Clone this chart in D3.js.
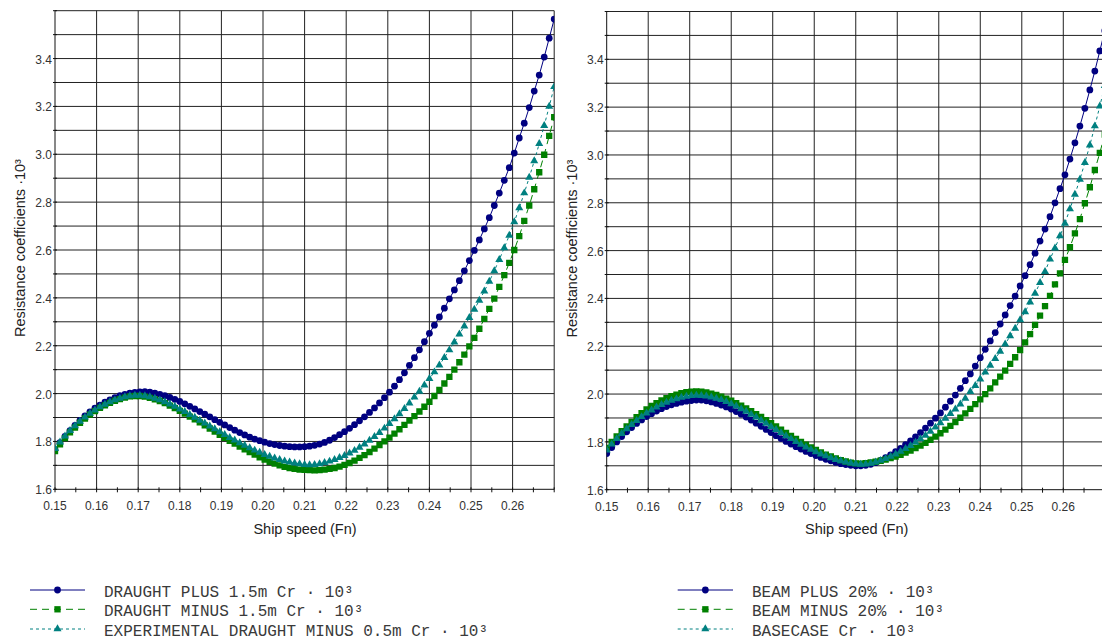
<!DOCTYPE html>
<html>
<head>
<meta charset="utf-8">
<script src="https://cdn.jsdelivr.net/npm/d3@7"></script>
<style>
  html, body { margin: 0; padding: 0; background: #fff; overflow: hidden; }
  svg { display: block; }
</style>
</head>
<body>
<svg id="chart" width="1102" height="641"></svg>
<script>
// Froude number of each computed point
const speeds = [
  0.1500,0.1512,0.1524,0.1536,0.1548,0.1560,0.1572,0.1584,0.1596,0.1608,
  0.1620,0.1632,0.1644,0.1656,0.1668,0.1680,0.1692,0.1704,0.1716,0.1728,
  0.1740,0.1752,0.1764,0.1776,0.1788,0.1800,0.1812,0.1824,0.1836,0.1848,
  0.1860,0.1872,0.1884,0.1896,0.1908,0.1920,0.1932,0.1944,0.1956,0.1968,
  0.1980,0.1992,0.2004,0.2016,0.2028,0.2040,0.2052,0.2064,0.2076,0.2088,
  0.2100,0.2112,0.2124,0.2136,0.2148,0.2160,0.2172,0.2184,0.2196,0.2208,
  0.2220,0.2232,0.2244,0.2256,0.2268,0.2280,0.2292,0.2304,0.2316,0.2328,
  0.2340,0.2352,0.2364,0.2376,0.2388,0.2400,0.2412,0.2424,0.2436,0.2448,
  0.2460,0.2472,0.2484,0.2496,0.2508,0.2520,0.2532,0.2544,0.2556,0.2568,
  0.2580,0.2592,0.2604,0.2616,0.2628,0.2640,0.2652,0.2664,0.2676,0.2688,
  0.2700
];

// Residuary resistance coefficient Cr · 10³, draught variants
const draughtPlus = [
  1.765,1.795,1.821,1.845,1.867,1.888,1.907,1.924,1.939,1.952,
  1.964,1.974,1.983,1.991,1.997,2.002,2.005,2.007,2.008,2.006,
  2.002,1.997,1.991,1.984,1.976,1.967,1.957,1.947,1.936,1.925,
  1.914,1.903,1.891,1.880,1.869,1.858,1.847,1.837,1.827,1.818,
  1.810,1.803,1.797,1.791,1.787,1.783,1.780,1.778,1.777,1.777,
  1.778,1.780,1.784,1.789,1.796,1.805,1.816,1.828,1.841,1.855,
  1.870,1.886,1.903,1.921,1.940,1.961,1.983,2.006,2.031,2.058,
  2.087,2.118,2.150,2.183,2.217,2.252,2.286,2.320,2.357,2.396,
  2.433,2.472,2.513,2.556,2.598,2.642,2.688,2.735,2.786,2.838,
  2.891,2.944,3.005,3.068,3.130,3.195,3.264,3.331,3.406,3.485,
  3.565
];
const draughtMinus = [
  1.760,1.788,1.814,1.838,1.858,1.878,1.896,1.912,1.927,1.940,
  1.951,1.961,1.970,1.977,1.983,1.988,1.990,1.990,1.987,1.982,
  1.976,1.969,1.960,1.950,1.939,1.928,1.916,1.904,1.892,1.880,
  1.867,1.854,1.841,1.828,1.815,1.803,1.791,1.779,1.767,1.756,
  1.745,1.734,1.724,1.715,1.707,1.700,1.694,1.689,1.685,1.682,
  1.681,1.680,1.679,1.680,1.682,1.685,1.689,1.695,1.702,1.710,
  1.720,1.731,1.743,1.756,1.770,1.785,1.800,1.816,1.833,1.851,
  1.869,1.887,1.906,1.925,1.945,1.966,1.990,2.015,2.042,2.070,
  2.100,2.131,2.163,2.197,2.233,2.271,2.312,2.354,2.397,2.446,
  2.495,2.546,2.600,2.658,2.722,2.786,2.854,2.925,2.998,3.077,
  3.155
];
const experimentalMinus = [
  1.770,1.797,1.822,1.845,1.865,1.884,1.901,1.917,1.931,1.944,
  1.955,1.965,1.973,1.980,1.986,1.990,1.992,1.992,1.990,1.986,
  1.980,1.973,1.965,1.956,1.946,1.935,1.924,1.912,1.900,1.888,
  1.876,1.864,1.852,1.840,1.828,1.816,1.805,1.794,1.783,1.773,
  1.763,1.754,1.745,1.737,1.730,1.724,1.718,1.713,1.709,1.706,
  1.703,1.702,1.703,1.706,1.711,1.717,1.724,1.732,1.741,1.751,
  1.762,1.775,1.789,1.804,1.820,1.837,1.855,1.874,1.894,1.915,
  1.937,1.960,1.985,2.009,2.035,2.062,2.090,2.119,2.150,2.182,
  2.215,2.248,2.282,2.317,2.352,2.389,2.428,2.469,2.513,2.560,
  2.609,2.661,2.717,2.776,2.838,2.903,2.972,3.044,3.120,3.200,
  3.282
];

// Residuary resistance coefficient Cr · 10³, beam variants
const beamPlus = [
  1.751,1.776,1.800,1.822,1.842,1.860,1.877,1.892,1.906,1.918,
  1.929,1.939,1.948,1.955,1.961,1.966,1.970,1.973,1.975,1.975,
  1.972,1.967,1.961,1.954,1.946,1.937,1.927,1.916,1.904,1.891,
  1.878,1.865,1.852,1.839,1.826,1.814,1.802,1.791,1.780,1.770,
  1.760,1.751,1.743,1.735,1.727,1.721,1.714,1.709,1.705,1.702,
  1.700,1.700,1.702,1.706,1.713,1.723,1.734,1.746,1.759,1.773,
  1.788,1.804,1.821,1.839,1.858,1.878,1.899,1.921,1.945,1.970,
  1.996,2.024,2.056,2.084,2.117,2.152,2.187,2.222,2.257,2.293,
  2.331,2.370,2.410,2.452,2.495,2.541,2.589,2.640,2.690,2.742,
  2.800,2.859,2.917,2.983,3.051,3.121,3.195,3.272,3.351,3.435,
  3.520
];
const beamMinus = [
  1.775,1.800,1.823,1.845,1.865,1.884,1.903,1.920,1.936,1.950,
  1.962,1.973,1.983,1.991,1.998,2.004,2.008,2.010,2.011,2.010,
  2.007,2.002,1.996,1.989,1.981,1.972,1.962,1.951,1.940,1.928,
  1.916,1.904,1.891,1.878,1.865,1.851,1.838,1.825,1.812,1.800,
  1.788,1.777,1.766,1.756,1.747,1.739,1.731,1.724,1.718,1.713,
  1.710,1.709,1.711,1.714,1.717,1.721,1.726,1.732,1.739,1.746,
  1.755,1.764,1.774,1.784,1.796,1.809,1.822,1.836,1.851,1.867,
  1.883,1.901,1.919,1.938,1.958,1.978,2.000,2.024,2.049,2.073,
  2.098,2.126,2.154,2.184,2.216,2.251,2.289,2.328,2.368,2.411,
  2.459,2.505,2.561,2.614,2.672,2.732,2.798,2.865,2.937,3.009,
  3.085
];
const basecase = [
  1.765,1.790,1.813,1.834,1.854,1.872,1.889,1.905,1.920,1.933,
  1.945,1.956,1.965,1.973,1.980,1.986,1.990,1.993,1.994,1.993,
  1.991,1.987,1.982,1.976,1.968,1.959,1.949,1.938,1.927,1.915,
  1.903,1.890,1.877,1.864,1.851,1.838,1.825,1.813,1.801,1.789,
  1.778,1.768,1.758,1.749,1.741,1.733,1.726,1.720,1.715,1.711,
  1.708,1.706,1.707,1.710,1.715,1.722,1.730,1.739,1.749,1.760,
  1.772,1.784,1.798,1.812,1.827,1.844,1.861,1.879,1.898,1.918,
  1.937,1.958,1.982,2.010,2.035,2.062,2.091,2.120,2.148,2.178,
  2.209,2.243,2.275,2.310,2.344,2.384,2.421,2.466,2.512,2.564,
  2.610,2.661,2.714,2.774,2.835,2.898,2.968,3.041,3.121,3.204,
  3.290
];

// Axis ticks and grid
const xTickLabels = [0.15,0.16,0.17,0.18,0.19,0.20,0.21,0.22,0.23,0.24,0.25,0.26];
const xGrid = [0.16,0.17,0.18,0.19,0.20,0.21,0.22,0.23,0.24,0.25,0.26,0.27];
const xMinor = [0.15,0.155,0.16,0.165,0.17,0.175,0.18,0.185,0.19,0.195,0.20,0.205,
                0.21,0.215,0.22,0.225,0.23,0.235,0.24,0.245,0.25,0.255,0.26,0.265,0.27];
const yTickLabels = [1.6,1.8,2.0,2.2,2.4,2.6,2.8,3.0,3.2,3.4];
const yGrid = [1.7,1.8,1.9,2.0,2.1,2.2,2.3,2.4,2.5,2.6,2.7,2.8,2.9,3.0,3.1,3.2,3.3,3.4,3.5,3.6];

const leftNames  = ['DRAUGHT PLUS 1.5m Cr · 10³', 'DRAUGHT MINUS 1.5m Cr · 10³', 'EXPERIMENTAL DRAUGHT MINUS 0.5m Cr · 10³'];
const rightNames = ['BEAM PLUS 20% · 10³', 'BEAM MINUS 20% · 10³', 'BASECASE Cr · 10³'];

const styles = [
  { color: '#000080', dash: null,  symbol: d3.symbolCircle,   size: 36 },
  { color: '#008000', dash: '7,5', symbol: d3.symbolSquare,   size: 40 },
  { color: '#008080', dash: '3,3', symbol: d3.symbolTriangle, size: 28 }
];

const panels = [
  { id: 'p1', left: 55, right: 554.2, top: 10.7, bottom: 489.3,
    titleX: 25, legendLine: [30, 85], legendText: 104,
    names: leftNames, data: [draughtPlus, draughtMinus, experimentalMinus] },
  { id: 'p2', left: 606.7, right: 1104.8, top: 11.5, bottom: 489.7,
    titleX: 577, legendLine: [677.7, 733], legendText: 752,
    names: rightNames, data: [beamPlus, beamMinus, basecase] }
];
const legendRows = [590, 609.3, 629];

const svg = d3.select('#chart');
const sansFont = '"Liberation Sans", Arial, sans-serif';
const monoFont = '"Liberation Mono", "Courier New", monospace';

panels.forEach(p => {
  const x = d3.scaleLinear().domain([0.15, 0.27]).range([p.left, p.right]);
  const y = d3.scaleLinear().domain([1.6, 3.6]).range([p.bottom, p.top]);
  const g = svg.append('g');

  svg.append('clipPath').attr('id', 'clip-' + p.id)
    .append('rect')
    .attr('x', p.left).attr('y', p.top)
    .attr('width', p.right - p.left).attr('height', p.bottom - p.top);

  // grid
  g.selectAll('.vgrid').data(xGrid).join('line')
    .attr('x1', d => x(d)).attr('x2', d => x(d))
    .attr('y1', p.top).attr('y2', p.bottom)
    .attr('stroke', '#222').attr('stroke-width', 1);
  g.selectAll('.hgrid').data(yGrid).join('line')
    .attr('x1', p.left).attr('x2', p.right)
    .attr('y1', d => y(d)).attr('y2', d => y(d))
    .attr('stroke', '#222').attr('stroke-width', 1);

  // axes
  g.append('line').attr('x1', p.left).attr('x2', p.left)
    .attr('y1', p.top).attr('y2', p.bottom).attr('stroke', '#111');
  g.append('line').attr('x1', p.left).attr('x2', p.right)
    .attr('y1', p.bottom).attr('y2', p.bottom).attr('stroke', '#111');
  g.selectAll('.xtick').data(xMinor).join('line')
    .attr('x1', d => x(d)).attr('x2', d => x(d))
    .attr('y1', p.bottom - 2).attr('y2', p.bottom + 3)
    .attr('stroke', '#111');
  g.selectAll('.ytick').data(yGrid.concat([1.6])).join('line')
    .attr('x1', p.left - 2).attr('x2', p.left + 2)
    .attr('y1', d => y(d)).attr('y2', d => y(d))
    .attr('stroke', '#111');

  g.selectAll('.xlabel').data(xTickLabels).join('text')
    .attr('x', d => x(d)).attr('y', p.bottom + 21)
    .attr('text-anchor', 'middle')
    .attr('font-family', sansFont).attr('font-size', 12).attr('fill', '#333')
    .text(d => d.toFixed(2));
  g.selectAll('.ylabel').data(yTickLabels).join('text')
    .attr('x', p.left - 3).attr('y', d => y(d) + 5)
    .attr('text-anchor', 'end')
    .attr('font-family', sansFont).attr('font-size', 12).attr('fill', '#333')
    .text(d => d.toFixed(1));

  // axis titles
  g.append('text')
    .attr('x', (p.left + p.left + 500) / 2).attr('y', 534)
    .attr('text-anchor', 'middle')
    .attr('font-family', sansFont).attr('font-size', 14.5).attr('fill', '#222')
    .text('Ship speed (Fn)');
  g.append('text')
    .attr('transform', `translate(${p.titleX},${(p.top + p.bottom) / 2 - 2}) rotate(-90)`)
    .attr('text-anchor', 'middle')
    .attr('font-family', sansFont).attr('font-size', 14.5).attr('fill', '#222')
    .text('Resistance coefficients ·10³');

  // series
  const plot = g.append('g').attr('clip-path', `url(#clip-${p.id})`);
  const line = d3.line().x((d, i) => x(speeds[i])).y(d => y(d));
  p.data.forEach((vals, si) => {
    const st = styles[si];
    plot.append('path').datum(vals)
      .attr('d', line)
      .attr('fill', 'none')
      .attr('stroke', st.color).attr('stroke-width', 1)
      .attr('stroke-dasharray', st.dash);
    plot.selectAll(null).data(vals).join('path')
      .attr('transform', (d, i) => `translate(${x(speeds[i])},${y(d)})`)
      .attr('d', d3.symbol().type(st.symbol).size(st.size))
      .attr('fill', st.color);
  });

  // legend
  p.names.forEach((name, si) => {
    const st = styles[si];
    const ry = legendRows[si];
    const [lx0, lx1] = p.legendLine;
    svg.append('line')
      .attr('x1', lx0).attr('x2', lx1).attr('y1', ry).attr('y2', ry)
      .attr('stroke', st.color).attr('stroke-width', 1)
      .attr('stroke-dasharray', st.dash);
    svg.append('path')
      .attr('transform', `translate(${(lx0 + lx1) / 2},${ry})`)
      .attr('d', d3.symbol().type(st.symbol).size(st.size))
      .attr('fill', st.color);
    svg.append('text')
      .attr('x', p.legendText).attr('y', ry + 6.5)
      .attr('font-family', monoFont).attr('font-size', 16).attr('fill', '#3a3a3a')
      .text(name);
  });
});
</script>
</body>
</html>
